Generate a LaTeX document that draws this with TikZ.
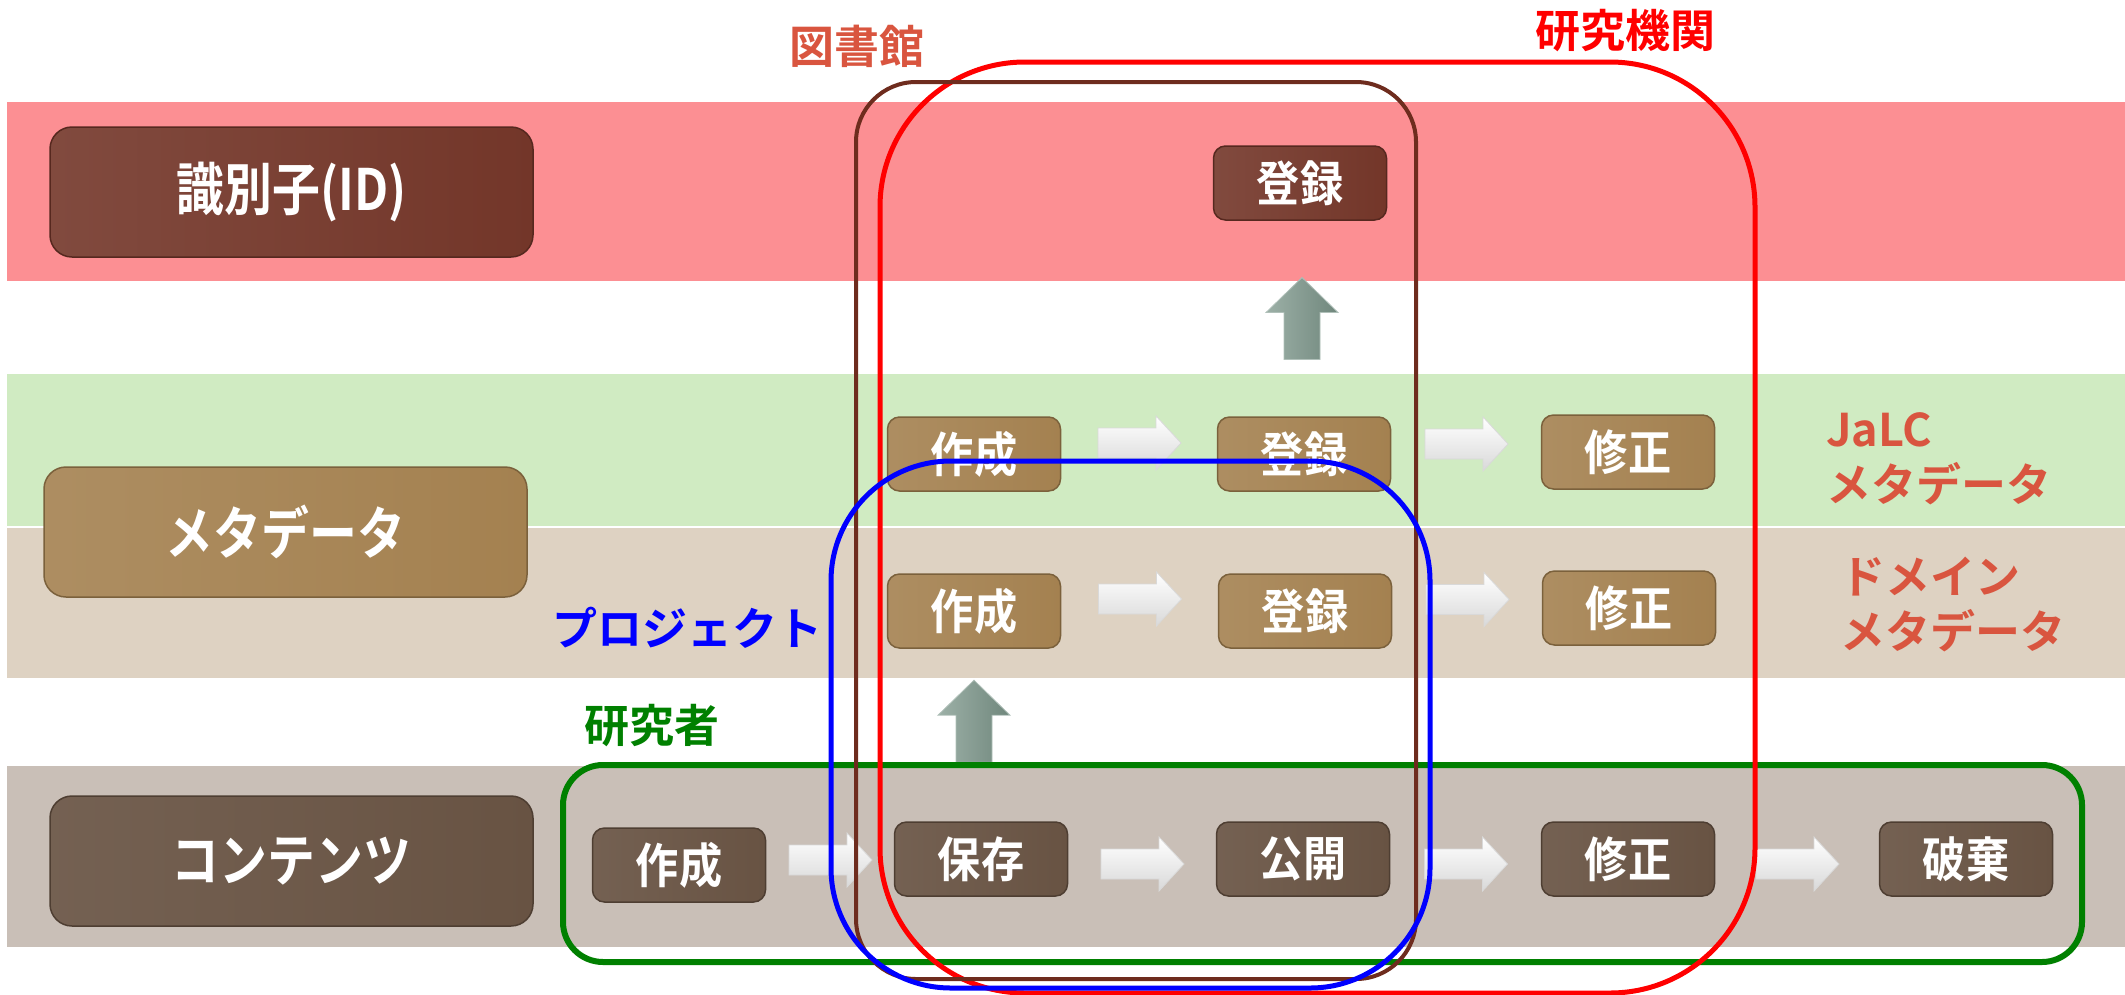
\documentclass[tikz,border=0pt]{standalone}
\usepackage{fontspec}
\setmainfont{Noto Sans CJK JP}[BoldFont={Noto Sans CJK JP Bold}]
\newfontfamily\boxfont{Noto Sans CJK JP}[BoldFont={Noto Sans CJK JP Bold}, FakeStretch=0.9]
\newfontfamily\bigfont{Noto Sans CJK JP}[BoldFont={Noto Sans CJK JP Bold}, FakeStretch=0.84]
\usetikzlibrary{calc}
\definecolor{bandR}{HTML}{FC8F93}
\definecolor{bandG}{HTML}{D0EBC2}
\definecolor{bandB}{HTML}{DED2C2}
\definecolor{bandC}{HTML}{C9BFB7}
\definecolor{idbox}{HTML}{733629}
\definecolor{mdbox}{HTML}{A48150}
\definecolor{ctbox}{HTML}{685343}
\definecolor{libc}{HTML}{6E2C1E}
\definecolor{lblc}{HTML}{D9553F}
\definecolor{grnc}{HTML}{008000}
\definecolor{upc}{HTML}{7C968A}
\tikzset{
  sbox/.style={rounded corners=12pt, minimum width=173pt, minimum height=74pt, inner sep=0pt,
    font=\boxfont\fontsize{48}{52}\selectfont\bfseries, text=white, line width=1.5pt},
  bigbox/.style={sbox, minimum width=483pt, minimum height=130pt, rounded corners=22pt,
    font=\bigfont\fontsize{57}{60}\selectfont\bfseries},
  idb/.style={draw=idbox!75!black, left color=idbox!90!white, right color=idbox},
  mdb/.style={draw=mdbox!75!black, left color=mdbox!90!white, right color=mdbox},
  ctb/.style={draw=ctbox!75!black, left color=ctbox!92!white, right color=ctbox},
  region/.style={rounded corners=#1},
  lbl/.style={font=\fontsize{45}{55}\selectfont\bfseries, inner sep=0pt},
  warrow/.pic={\shade[top color=white, bottom color=gray!30, draw=gray!30, line width=0.8pt]
    (-41,-15) -- (17,-15) -- (17,-27) -- (42,0) -- (17,27) -- (17,15) -- (-41,15) -- cycle;},
  uarrow/.pic={\shade[left color=upc!75!white, right color=upc!90!black, draw=upc!60!white, line width=0.8pt]
    (-18,41) -- (-18,-6) -- (-36,-6) -- (0,-41) -- (36,-6) -- (18,-6) -- (18,41) -- cycle;}
}
\begin{document}
\begin{tikzpicture}[x=1pt,y=-1pt]
\useasboundingbox (0,0) rectangle (2125,994);
% bands
\fill[bandR] (7,102) rectangle (2125,281);
\fill[bandG] (7,374) rectangle (2125,526);
\fill[bandB] (7,528) rectangle (2125,678);
\fill[bandC] (7,766) rectangle (2125,947);
% left labels
\node[bigbox, idb] (idl) at (291.5,192) {識別子(ID)};
\node[bigbox, mdb] (mdl) at (285.5,532) {メタデータ};
\node[bigbox, ctb] (ctl) at (291.5,861) {コンテンツ};
% boxes
\node[sbox, idb] (iTou) at (1300,183) {登録};
\node[sbox, mdb] (jSak) at (974,454) {作成};
\node[sbox, mdb] (jTou) at (1304,454) {登録};
\node[sbox, mdb] (jShu) at (1628,452) {修正};
\node[sbox, mdb] (dSak) at (974,611) {作成};
\node[sbox, mdb] (dTou) at (1305,611) {登録};
\node[sbox, mdb] (dShu) at (1629,608) {修正};
\node[sbox, ctb] (cSak) at (679,865) {作成};
\node[sbox, ctb] (cHoz) at (981,859) {保存};
\node[sbox, ctb] (cKou) at (1303,859) {公開};
\node[sbox, ctb] (cShu) at (1628,859) {修正};
\node[sbox, ctb] (cHak) at (1966,859) {破棄};
% horizontal arrows
\coordinate (a1) at ($(jSak.east)!0.5!(jTou.west)+(0,-11)$);
\coordinate (a2) at ($(jTou.east)!0.5!(jShu.west)+(0,-9)$);
\coordinate (a3) at ($(dSak.east)!0.5!(dTou.west)+(0,-12)$);
\coordinate (a4) at ($(dTou.east)!0.5!(dShu.west)+(0,-10)$);
\coordinate (a5) at ($(cSak.east)!0.5!(cHoz.west)+(0,-2)$);
\coordinate (a6) at ($(cHoz.east)!0.5!(cKou.west)+(0,5)$);
\coordinate (a7) at ($(cKou.east)!0.5!(cShu.west)+(0,5)$);
\coordinate (a8) at ($(cShu.east)!0.5!(cHak.west)+(0,5)$);
\foreach \a in {a1,a2,a3,a4,a5,a6,a7,a8} \pic at (\a) {warrow};
% up arrows
\coordinate (u1) at ($(jTou.north)!0.5!(iTou.south)$);
\coordinate (u2) at ($(dSak.south)!0.42!(dSak.south|-cHoz.north)$);
\pic at (u1) {uarrow};
\pic at (u2) {uarrow};
% regions
\draw[grnc, line width=6pt, region=40pt] (563,765) rectangle (2082,962);
\draw[red, line width=5pt, region=145pt] (880,62) rectangle (1755,993);
\draw[libc, line width=4pt, region=60pt] (856,82) rectangle (1416,979);
\draw[blue, line width=5pt, region=120pt] (831,461) rectangle (1430,988);
% region labels
\node[lbl, text=lblc] (libl) at (857,46) {図書館};
\node[lbl, text=red] (resl) at (1625,31) {研究機関};
\node[lbl, text=blue] (prjl) at (687,628) {プロジェクト};
\node[lbl, text=grnc] (rsrl) at (652,726) {研究者};
\node[lbl, text=lblc, align=left, anchor=west] (jalc) at (1826,459) {JaLC\\メタデータ};
\node[lbl, text=lblc, align=left, anchor=west] (domm) at (1840,604) {ドメイン\\メタデータ};
\end{tikzpicture}
\end{document}
